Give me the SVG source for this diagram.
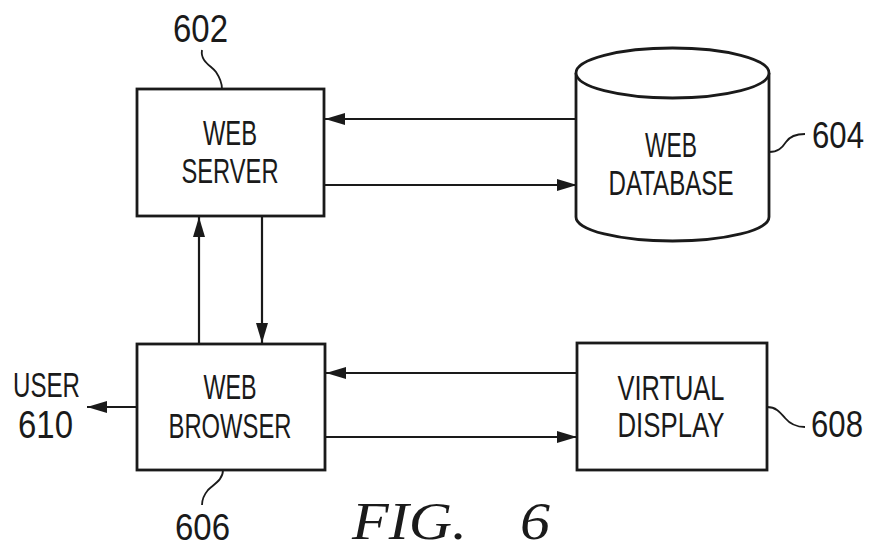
<svg xmlns="http://www.w3.org/2000/svg" width="872" height="551" viewBox="0 0 872 551">
<style>
.box{fill:#fff;stroke:#1a1a1a;stroke-width:2.8}
.lbl{font-family:"Liberation Sans",Arial,sans-serif;font-size:35px;fill:#1a1a1a;text-anchor:middle}
.num{font-family:"Liberation Sans",Arial,sans-serif;font-size:39px;fill:#1a1a1a}
.conn{stroke:#1a1a1a;stroke-width:2.2;fill:none}
.lead{stroke:#1a1a1a;stroke-width:1.8;fill:none}
.fig{font-family:"Liberation Serif","Times New Roman",serif;font-style:italic;font-size:52px;fill:#1a1a1a}
</style>
<defs>
<marker id="ah" viewBox="0 0 20 12" markerWidth="20" markerHeight="12" refX="20" refY="6" markerUnits="userSpaceOnUse" orient="auto">
<path d="M0,0 L20,6 L0,12 z" fill="#1a1a1a"/>
</marker>
</defs>
<rect width="872" height="551" fill="#fff"/>
<g id="connectors">
<line class="conn" x1="577" y1="119" x2="325" y2="119" marker-end="url(#ah)"/>
<line class="conn" x1="325" y1="185" x2="577" y2="185" marker-end="url(#ah)"/>
<line class="conn" x1="199" y1="343" x2="199" y2="217" marker-end="url(#ah)"/>
<line class="conn" x1="262" y1="216" x2="262" y2="343" marker-end="url(#ah)"/>
<line class="conn" x1="577" y1="373" x2="326" y2="373" marker-end="url(#ah)"/>
<line class="conn" x1="325" y1="437" x2="577" y2="437" marker-end="url(#ah)"/>
<line class="conn" x1="137" y1="407" x2="87" y2="407" marker-end="url(#ah)"/>
</g>
<g id="web-server">
<rect class="box" x="137" y="89" width="187" height="127"/>
<text class="lbl" x="230" y="145" textLength="54" lengthAdjust="spacingAndGlyphs">WEB</text>
<text class="lbl" x="230" y="183" textLength="97" lengthAdjust="spacingAndGlyphs">SERVER</text>
<path class="lead" d="M202,50 C200,62 212,66 216,72 C220,78 222,82 222,89"/>
<text class="num" x="173" y="42" textLength="55" lengthAdjust="spacingAndGlyphs">602</text>
</g>
<g id="web-database">
<path class="box" d="M576,73 L576,217 A96.5,24 0 0 0 769,217 L769,73"/>
<ellipse class="box" cx="672.5" cy="73" rx="96.5" ry="25"/>
<text class="lbl" x="671" y="157" textLength="52" lengthAdjust="spacingAndGlyphs">WEB</text>
<text class="lbl" x="671" y="195" textLength="125" lengthAdjust="spacingAndGlyphs">DATABASE</text>
<path class="lead" d="M769,152 C778,152 782,148 786,142 C790,136 796,134 805,134"/>
<text class="num" x="812" y="148" textLength="52" lengthAdjust="spacingAndGlyphs" style="font-size:36px">604</text>
</g>
<g id="web-browser">
<rect class="box" x="137" y="344" width="188" height="126"/>
<text class="lbl" x="230" y="399" textLength="53" lengthAdjust="spacingAndGlyphs">WEB</text>
<text class="lbl" x="230" y="438" textLength="123" lengthAdjust="spacingAndGlyphs">BROWSER</text>
<path class="lead" d="M223,470 C223,480 214,484 208,490 C203,496 202,500 202,505"/>
<text class="num" x="175" y="540" textLength="55" lengthAdjust="spacingAndGlyphs" style="font-size:37px">606</text>
</g>
<g id="virtual-display">
<rect class="box" x="577" y="343" width="190" height="127"/>
<text class="lbl" x="671" y="400" textLength="107" lengthAdjust="spacingAndGlyphs">VIRTUAL</text>
<text class="lbl" x="671" y="437" textLength="107" lengthAdjust="spacingAndGlyphs">DISPLAY</text>
<path class="lead" d="M767,407 C776,407 780,412 785,418 C790,424 796,427 805,427"/>
<text class="num" x="811" y="437" textLength="52" lengthAdjust="spacingAndGlyphs" style="font-size:36px">608</text>
</g>
<g id="user">
<text class="num" x="13" y="397" textLength="67" lengthAdjust="spacingAndGlyphs" style="font-size:35px">USER</text>
<text class="num" x="18" y="438" textLength="55" lengthAdjust="spacingAndGlyphs">610</text>
</g>
<g id="caption">
<text class="fig" x="352" y="539" textLength="115" lengthAdjust="spacingAndGlyphs">FIG.</text>
<text class="fig" x="520" y="539" textLength="30" lengthAdjust="spacingAndGlyphs">6</text>
</g>
</svg>
